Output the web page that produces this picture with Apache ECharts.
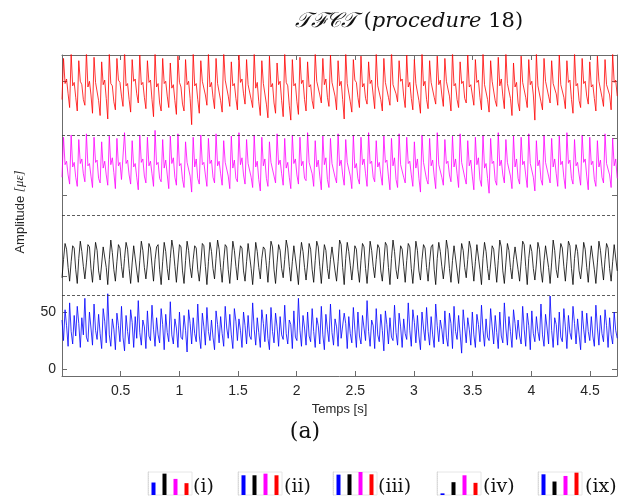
<!DOCTYPE html>
<html><head><meta charset="utf-8">
<script src="https://cdn.jsdelivr.net/npm/echarts@6/dist/echarts.min.js"></script>
<style>html,body{margin:0;padding:0;background:#fff}#c{width:618px;height:503px}</style>
</head><body><div id="c"></div>
<script>
// sampling step of the recorded signals [s]
const DT = 0.013;
const xTicks = [0.5, 1, 1.5, 2, 2.5, 3, 3.5, 4, 4.5];
const yTickLabels = [0, 50];
const separators = [65, 135, 205];

const redSig = [
236,272,250,254,241, 229,276,248,251,238, 226,270,252,249,236, 231,278,247,252,240, 224,273,251,250,235,
222,269,249,253,237, 219,276,250,248,234, 227,272,253,251,239, 230,279,248,250,236, 225,271,252,254,241,
233,275,249,251,238, 228,270,251,253,236, 221,277,247,250,233, 226,272,250,252,239, 229,268,246,249,235,
223,274,251,247,232, 226,271,249,252,237, 214,277,248,250,236, 224,270,252,253,240, 231,276,247,251,238,
228,272,250,249,235, 225,279,253,252,239, 230,269,248,250,237, 227,275,251,254,241, 232,271,249,248,236,
229,277,246,251,234, 222,270,250,249,232, 220,274,247,250,233, 224,268,249,252,235, 221,276,251,248,231,
218,271,248,250,234, 223,273,250,253,236, 226,269,247,249,235, 228,277,252,251,240, 233,272,249,254,238,
230,275,251,250,239, 227,270,248,252,236, 219,278,250,249,234, 225,271,253,251,238, 229,274,247,250,237,
232,269,250,253,240, 228,276,248,249,236, 226,272,251,252,238, 231,279,249,250,241, 234,270,252,254,239,
229,275,247,251,237, 227,271,250,249,235, 224,277,248,252,236, 228,270,251,250,238, 232,274,249,253,240,
230,272,252,251,239, 226,278,248,250,236, 229,269,250,252,237, 233,275,247,249,240, 231,271,251,253,238,
227,276,249,250,236, 225,270,252,251,235, 230,273,248,254,239, 228,277,250,249,237, 222,268,247,251,233,
226,274,251,250,238, 229,271,249,252,240, 218,276,248,249,234, 227,272,252,253,239, 233,270,250,251,241,
231,275,249,250,238, 228,270,251,253,236, 224,277,248,250,235, 229,272,250,252,239, 232,269,247,249,237,
226,274,252,251,238, 230,271,249,250,240, 227,276,251,253,239
];

const magentaSig = [
168,203,179,182,170, 162,205,177,181,168, 160,201,180,184,171, 164,206,178,180,169, 159,203,181,183,167,
163,199,176,182,170, 161,204,179,185,172, 158,202,178,181,166, 165,207,180,183,170, 162,200,177,180,168,
157,205,181,184,169, 163,203,178,182,171, 160,209,179,181,167, 164,201,176,183,170, 158,204,180,185,168,
161,206,178,180,166, 159,199,181,182,169, 155,203,177,184,167, 162,205,179,181,170, 160,202,180,183,168,
163,206,178,182,171, 161,200,181,180,169, 158,204,176,183,167, 164,207,179,185,170, 162,201,180,181,168,
159,205,177,182,166, 156,203,178,184,167, 160,199,181,180,169, 163,206,179,183,171, 161,202,176,181,168,
158,205,180,184,170, 162,203,178,182,167, 165,207,181,180,171, 160,200,177,183,169, 157,204,179,185,166,
159,202,180,181,168, 163,206,178,183,170, 161,201,181,182,169, 158,205,176,180,167, 162,203,179,184,171,
160,207,180,182,168, 164,200,177,181,170, 161,204,181,183,169, 157,202,178,185,166, 159,206,179,180,168,
163,203,180,182,170, 160,199,176,184,167, 155,205,181,181,166, 162,202,178,183,169, 158,207,179,180,168,
161,201,180,182,170, 164,204,177,184,171, 159,206,181,181,168, 162,200,178,183,169, 157,203,179,185,166,
160,205,176,180,167, 154,202,180,182,165, 161,207,178,183,170, 163,201,181,181,169, 158,204,177,184,167,
162,203,179,182,170, 159,206,180,180,168, 156,200,178,183,166, 161,205,181,181,169, 163,202,177,184,171,
160,204,179,182,168, 158,207,180,183,167, 162,201,178,181,170, 161,205,181,184,169, 157,203,179,182,166,
160,200,177,183,168, 163,206,180,181,170, 159,202,178,184,167
];

const blackSig = [
80,96,110,105,89, 77,94,108,106,87, 75,97,112,103,90, 79,93,109,107,88, 76,95,111,104,86,
78,92,107,108,89, 74,96,113,102,87, 77,94,109,106,90, 80,97,111,105,88, 75,93,108,107,86,
76,95,112,104,89, 79,92,110,106,91, 77,96,107,109,87, 74,94,111,103,88, 78,97,113,105,90,
76,93,109,107,86, 75,95,112,104,89, 80,96,108,106,87, 77,92,110,108,90, 74,94,111,103,88,
79,97,113,105,89, 76,95,109,107,87, 75,93,112,104,90, 78,96,108,106,86, 77,94,110,109,88,
74,92,111,103,89, 79,97,107,105,91, 76,95,112,107,87, 75,93,109,104,88, 80,96,113,106,90,
77,94,108,108,86, 74,97,111,103,89, 78,92,110,105,87, 76,95,112,107,90, 75,93,109,104,88,
79,96,107,106,86, 77,94,113,109,89, 74,97,111,103,91, 78,92,108,105,87, 76,95,110,107,88,
75,93,112,104,90, 80,96,109,106,86, 77,94,111,108,89, 74,97,113,103,87, 79,92,108,105,90,
76,95,110,107,88, 75,93,112,104,86, 78,96,109,106,89, 77,94,107,109,87, 74,97,111,103,90,
79,92,113,105,88, 76,95,108,107,86, 75,93,110,104,89, 80,96,112,106,91, 77,94,109,108,87,
74,97,111,103,88, 78,92,108,105,90, 76,95,113,107,86, 75,93,110,104,89, 79,96,107,106,87,
77,94,112,109,90, 74,97,109,103,88, 78,92,111,105,86, 76,95,108,107,89, 75,93,113,104,87,
80,96,110,106,90, 77,94,112,108,88, 74,97,109,103,86, 79,92,111,105,89, 76,95,108,107,87,
75,93,112,104,90, 78,96,110,106,88, 77,94,109,108,86
];

const blueSig = [
43,25,52,38,20, 58,33,22,47,29, 55,40,19,45,30, 62,28,24,50,36, 21,57,34,26,48,
31,18,53,42,23, 66,30,20,44,35, 17,49,38,24,55, 28,16,47,33,22, 52,41,19,46,27,
60,32,21,43,37, 18,51,29,25,56, 35,20,45,30,23, 53,39,17,48,32, 24,59,30,22,44,
36,19,50,28,26, 47,34,15,52,40, 22,45,31,24,57, 29,18,49,37,21, 54,33,25,43,28,
17,51,39,23,46, 31,20,55,36,27, 48,30,18,53,42, 25,44,34,19,50, 38,22,47,29,26,
58,35,21,45,32, 19,52,40,24,48, 27,17,54,33,23, 49,37,20,46,30, 26,56,31,22,43,
39,18,51,28,25, 62,34,20,47,36, 21,50,29,24,53, 33,19,45,38,22, 55,30,17,48,35,
24,57,32,21,44, 37,20,52,27,26, 49,40,18,46,31, 23,54,35,19,50, 29,22,47,36,25,
60,33,20,43,38, 18,53,30,24,48, 34,16,51,39,22, 45,28,25,56,32, 21,49,37,19,44,
31,26,58,34,20, 52,41,23,47,29, 17,50,36,25,54, 33,21,46,30,19, 57,38,24,43,35,
22,51,28,20,49, 40,18,55,33,26, 47,31,14,52,37, 23,45,35,21,50, 30,19,48,39,24,
56,34,20,44,28, 25,53,37,22,47, 32,18,50,29,23, 58,36,21,46,33, 19,52,40,26,43,
29,22,55,35,20, 49,38,17,51,31, 24,46,33,25,57, 30,20,48,36,22, 64,34,19,45,39,
21,50,28,24,53, 37,18,47,32,26, 55,40,22,44,30, 17,51,35,23,49, 33,25,46,29,20,
56,36,21,47,31, 24,52,38,19,45, 30,22,50,34,27
];

// legend thumbnails (bar heights: blue, black, magenta, red)
const thumbNames = ['(i)', '(ii)', '(iii)', '(iv)', '(ix)'];
const thumbCats = ['b', 'k', 'm', 'r'];
const thumbVals = [
  [38, 65, 49, 36],
  [60, 60, 65, 60],
  [62, 63, 70, 63],
  [5, 39, 60, 37],
  [63, 41, 58, 68]
];
const thumbColors = ['#0000ff', '#000000', '#ff00ff', '#ff0000'];

const toPairs = arr => arr.map((v, i) => [+(i * DT).toFixed(4), v]);

const AX = '#6b6b6b';
const TXT = '#262626';
const SANS = 'Liberation Sans, Arial, sans-serif';
const SERIF = 'DejaVu Serif, Liberation Serif, serif';
const chart = echarts.init(document.getElementById('c'), null, {renderer: 'canvas'});

const grids = [{left: 62, right: 1, top: 55, bottom: 127, show: false}];
const xAxes = [
  {type: 'value', gridIndex: 0, min: 0, max: 4.73, interval: 0.5, position: 'bottom',
   axisLine: {show: true, onZero: false, lineStyle: {color: AX, width: 1}},
   axisTick: {show: true, inside: true, length: 5, lineStyle: {color: AX}},
   axisLabel: {showMinLabel: false, showMaxLabel: false, color: TXT, fontSize: 14, fontFamily: SANS, margin: 8},
   splitLine: {show: false},
   name: 'Temps [s]', nameLocation: 'middle', nameGap: 25,
   nameTextStyle: {color: TXT, fontSize: 13, fontFamily: SANS}},
  {type: 'value', gridIndex: 0, min: 0, max: 4.73, interval: 0.5, position: 'top',
   axisLine: {show: true, onZero: false, lineStyle: {color: AX, width: 1}},
   axisTick: {show: true, inside: true, length: 5, lineStyle: {color: AX}},
   axisLabel: {show: false}, splitLine: {show: false}}
];
const yAxes = [
  {type: 'value', gridIndex: 0, min: -6, max: 275, position: 'left',
   axisLine: {show: true, onZero: false, lineStyle: {color: AX, width: 1}},
   axisTick: {show: true, inside: true, length: 5, lineStyle: {color: AX}, customValues: [0, 50, 81, 152, 252]},
   axisLabel: {color: TXT, fontSize: 14, fontFamily: SANS, margin: 6, customValues: yTickLabels},
   splitLine: {show: false}},
  {type: 'value', gridIndex: 0, min: -6, max: 275, position: 'right',
   axisLine: {show: true, onZero: false, lineStyle: {color: AX, width: 1}},
   axisTick: {show: true, inside: true, length: 5, lineStyle: {color: AX}, customValues: [0, 50, 152, 202, 252]},
   axisLabel: {show: false}, splitLine: {show: false}}
];

const lineSeries = (name, data, color, extra) => Object.assign({
  name, type: 'line', xAxisIndex: 0, yAxisIndex: 0, data: toPairs(data),
  showSymbol: false, symbol: 'none', sampling: null, clip: true, animation: false,
  lineStyle: {color, width: 0.8}, itemStyle: {color}
}, extra || {});

const series = [
  lineSeries('red', redSig, '#ff0000', {
    markLine: {silent: true, symbol: ['none', 'none'], label: {show: false},
      lineStyle: {color: '#333', type: [3, 2], width: 0.8},
      data: separators.map(v => ({yAxis: v}))}
  }),
  lineSeries('magenta', magentaSig, '#ff00ff'),
  lineSeries('black', blackSig, '#000000'),
  lineSeries('blue', blueSig, '#0000ff')
];

const thumbLefts = [148, 238, 333, 437, 538];
const labelLefts = [193, 284, 378, 483, 585];
const graphics = [];
thumbNames.forEach((nm, k) => {
  const gi = grids.length;
  const xi = xAxes.length;
  const yi = yAxes.length;
  grids.push({left: thumbLefts[k], top: 472, width: 44, height: 23, show: true,
    borderColor: '#e6e6e6', borderWidth: 1, backgroundColor: '#fff'});
  xAxes.push({type: 'category', gridIndex: gi, data: thumbCats, show: false});
  yAxes.push({type: 'value', gridIndex: gi, min: 0, max: 70, show: true,
    axisLine: {show: true, lineStyle: {color: '#d8d8d8', type: 'dotted', width: 1}},
    axisTick: {show: false}, axisLabel: {show: false}, splitLine: {show: false}});
  series.push({type: 'bar', xAxisIndex: xi, yAxisIndex: yi, barWidth: 4, animation: false,
    data: thumbVals[k].map((v, j) => ({value: v, itemStyle: {color: thumbColors[j]}}))});
  graphics.push({type: 'text', left: labelLefts[k], top: 478,
    style: {text: nm, fontSize: 19, fontFamily: SERIF, fill: '#111'}});
});

graphics.push({type: 'text', x: 409, y: 22,
  style: {text: '{c|𝒯ℱ𝒞𝒯}{r| (}{i|procedure}{r| 18)}', textAlign: 'center', textVerticalAlign: 'middle',
    rich: {
      c: {fontSize: 21, fontFamily: SERIF, fontStyle: 'italic', fill: '#111'},
      r: {fontSize: 21, fontFamily: SERIF, fill: '#111'},
      i: {fontSize: 21, fontFamily: SERIF, fontStyle: 'italic', fill: '#111'}
    }}});
graphics.push({type: 'text', x: 20, y: 212, rotation: Math.PI / 2,
  style: {text: 'Amplitude {m|[με]}', textAlign: 'center', textVerticalAlign: 'middle',
    fontSize: 13, fontFamily: SANS, fill: TXT,
    rich: {m: {fontSize: 13, fontFamily: 'Liberation Serif, serif', fontStyle: 'italic', fill: TXT}}}});
graphics.push({type: 'text', x: 305, y: 432,
  style: {text: '(a)', textAlign: 'center', textVerticalAlign: 'middle', fontSize: 22,
    fontFamily: SERIF, fill: '#111'}});

chart.setOption({
  animation: false,
  backgroundColor: '#fff',
  grid: grids, xAxis: xAxes, yAxis: yAxes, series, graphic: graphics
});
</script></body></html>
